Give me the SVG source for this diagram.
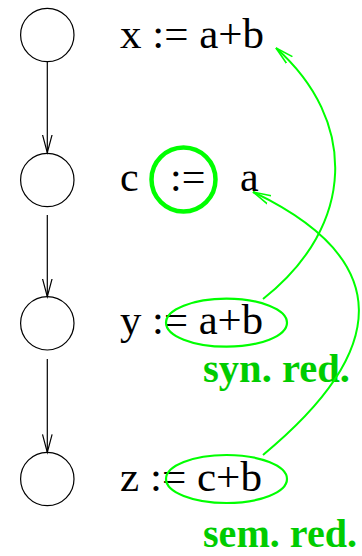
<svg xmlns="http://www.w3.org/2000/svg" width="362" height="556" viewBox="0 0 362 556">
<style>
.node{fill:none;stroke:#000;stroke-width:1.2}
.flow{fill:none;stroke:#000;stroke-width:1.2}
.txt{font-family:"Liberation Serif","Times New Roman",serif;font-size:42px;fill:#000}
.lbl{font-family:"Liberation Serif","Times New Roman",serif;font-size:40px;font-weight:bold;fill:#00cc00}
.hl{fill:none;stroke:#00ff00;stroke-width:2.2}
.red{fill:none;stroke:#00ff00;stroke-width:2}
</style>
<defs>
<marker id="ab" markerUnits="userSpaceOnUse" markerWidth="24" markerHeight="24" refX="18" refY="6" orient="auto" viewBox="0 0 24 12">
<path d="M0,1.2 L18,6 L0,10.8" fill="none" stroke="#000" stroke-width="1.2"/>
</marker>
<marker id="ag" markerUnits="userSpaceOnUse" markerWidth="24" markerHeight="24" refX="18" refY="6" orient="auto" viewBox="0 0 24 12">
<path d="M0,1.5 L18,6 L0,10.5" fill="none" stroke="#00ff00" stroke-width="1.6"/>
</marker>
</defs>
<g id="n1"><circle class="node" cx="47.3" cy="35" r="26.7"/><text class="txt" x="120" y="48" textLength="144" lengthAdjust="spacingAndGlyphs">x := a+b</text></g>
<g id="n2"><circle class="node" cx="47.3" cy="180" r="26.7"/><text class="txt" x="120" y="191">c</text><text class="txt" x="170" y="191">:=</text><text class="txt" x="240" y="191">a</text><circle cx="183.5" cy="179.5" r="32" fill="none" stroke="#00ff00" stroke-width="4.5"/></g>
<g id="n3"><circle class="node" cx="47.3" cy="323.3" r="26.7"/><text class="txt" x="120" y="334" textLength="143" lengthAdjust="spacingAndGlyphs">y := a+b</text><ellipse class="hl" cx="226.5" cy="322.7" rx="60.5" ry="24"/><text class="lbl" x="203" y="382" textLength="147" lengthAdjust="spacingAndGlyphs">syn. red.</text></g>
<g id="n4"><circle class="node" cx="47.3" cy="479" r="26.7"/><text class="txt" x="120" y="491" textLength="142" lengthAdjust="spacingAndGlyphs">z := c+b</text><ellipse class="hl" cx="226.5" cy="479" rx="60.5" ry="24"/><text class="lbl" x="203" y="547" textLength="154" lengthAdjust="spacingAndGlyphs">sem. red.</text></g>
<g id="connectors">
<line class="flow" x1="47.3" y1="61.7" x2="47.3" y2="152.7" marker-end="url(#ab)"/>
<line class="flow" x1="47.3" y1="215" x2="47.3" y2="296.7" marker-end="url(#ab)"/>
<line class="flow" x1="47.3" y1="359" x2="47.3" y2="452.3" marker-end="url(#ab)"/>
<path class="red" d="M263,299 C357,225 357,120 276,48" marker-end="url(#ag)"/>
<path class="red" d="M263,455 C390,350 395,260 253,192" marker-end="url(#ag)"/>
</g>
</svg>
